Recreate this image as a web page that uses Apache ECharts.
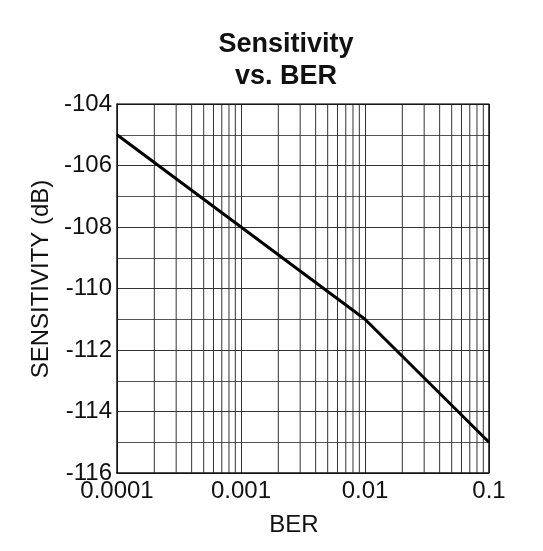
<!DOCTYPE html>
<html>
<head>
<meta charset="utf-8">
<script src="https://cdn.jsdelivr.net/npm/echarts@6/dist/echarts.min.js"></script>
<style>html,body{margin:0;padding:0;background:#fff}#c{width:543px;height:551px}</style>
</head>
<body>
<div id="c"></div>
<script>
const titleText = 'Sensitivity\nvs. BER';
const xName = 'BER';
const yName = 'SENSITIVITY (dB)';
const berValues = [0.0001, 0.01, 0.1];
const sensitivityValues = [-105, -111, -115];
const xTickLabels = ['0.0001', '0.001', '0.01', '0.1'];
const xDecades = [0.0001, 0.001, 0.01];
const minorMultipliers = [2, 3, 4, 5, 6, 7, 8, 9];
const yMin = -116, yMax = -104;

const FONT = 'Liberation Sans, Arial, sans-serif';
const minorX = [];
xDecades.forEach(d => minorMultipliers.forEach(m => minorX.push(m * d)));

const gridSeries = minorX.map(v => ({
  type: 'line', silent: true, symbol: 'none', z: 1,
  data: [[v, yMin], [v, yMax]],
  lineStyle: { color: '#333', width: 1 }
}));

const chart = echarts.init(document.getElementById('c'), null, { renderer: 'canvas' });
chart.setOption({
  animation: false,
  backgroundColor: '#fff',
  title: {
    text: titleText,
    left: 286, top: 29, padding: 0,
    textAlign: 'center',
    textStyle: { fontFamily: FONT, fontSize: 27, fontWeight: 'bold', color: '#111', lineHeight: 32 }
  },
  grid: { left: 117, right: 54, top: 104, bottom: 78, containLabel: false },
  xAxis: {
    type: 'log', logBase: 10, min: 0.0001, max: 0.1,
    name: xName, nameLocation: 'middle', nameGap: 40,
    nameTextStyle: { fontFamily: FONT, fontSize: 24, color: '#111', padding: [0, 18, 0, 0] },
    axisLine: { show: true, lineStyle: { color: '#111', width: 1.5 } },
    axisTick: { show: false },
    axisLabel: {
      fontFamily: FONT, fontSize: 24, color: '#111', margin: 6,
      formatter: v => xTickLabels[Math.round(Math.log10(v)) + 4]
    },
    splitLine: { show: true, lineStyle: { color: '#333', width: 1 } }
  },
  yAxis: {
    type: 'value', min: yMin, max: yMax, interval: 2,
    name: yName, nameLocation: 'middle', nameGap: 58, nameRotate: 90,
    nameTextStyle: { fontFamily: FONT, fontSize: 24, color: '#111', padding: [0, 0, 0, 19] },
    axisLine: { show: true, lineStyle: { color: '#111', width: 1.5 } },
    axisTick: { show: false },
    axisLabel: { fontFamily: FONT, fontSize: 24, color: '#111', margin: 5 },
    splitLine: { show: true, lineStyle: { color: '#333', width: 1 } },
    minorTick: { show: false, splitNumber: 2 },
    minorSplitLine: { show: true, lineStyle: { color: '#555', width: 1 } }
  },
  series: gridSeries.concat([{
    type: 'line',
    data: berValues.map((b, i) => [b, sensitivityValues[i]]),
    symbol: 'none',
    lineStyle: { color: '#000', width: 3 },
    z: 5
  }, {
    type: 'line', silent: true, symbol: 'none', z: 4,
    data: [[0.0001, yMax], [0.1, yMax], [0.1, yMin]],
    lineStyle: { color: '#111', width: 1.5 }
  }])
});
</script>
</body>
</html>
